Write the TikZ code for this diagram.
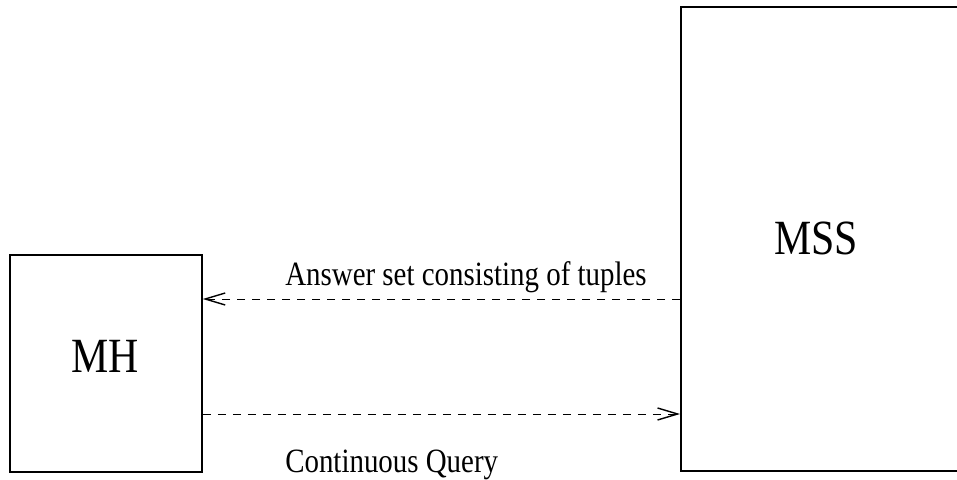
\documentclass[tikz,border=0pt]{standalone}
\usepackage{fontspec}
\setmainfont{Liberation Serif}[FakeStretch=0.85]
\usetikzlibrary{arrows.meta}

\begin{document}
\begin{tikzpicture}[x=1cm,y=1cm,
		unit/.style={draw, line width=1.1pt, inner sep=0pt},
		msg/.style={dash pattern=on 0.2cm off 0.175cm, line width=0.7pt,
			-{Straight Barb[length=0.5cm,width=0.3cm,line width=1pt]}},
		big/.style={font=\fontsize{35}{40}\selectfont},
		small/.style={font=\fontsize{24.2}{28}\selectfont, inner sep=0pt}]
		\path[use as bounding box, clip] (0,0) rectangle (23.925,11.975);
		% the two hosts
		\node[unit, minimum width=4.8cm, minimum height=5.425cm] (MH) at (2.65,2.8875) {};
		\node[unit, minimum width=8cm, minimum height=11.6cm, anchor=south west] (MSS) at (17,0.175) {};
		\node[big] (MHl) at (2.625,3.075) {MH};
		\node[big] (MSSl) at (20.41,6.0125) {MSS};
		% messages
		\coordinate (ans) at (0,4.5);
		\coordinate (cq) at (0,1.625);
		\draw[msg] (MSS.west |- ans) -- (MH.east |- ans);
		\draw[msg] (MH.east |- cq) -- (MSS.west |- cq);
		\node[small, anchor=base west] (ansl) at (7.125,4.825) {Answer set consisting of tuples};
		\node[small, anchor=base west] (cql) at (7.125,0.175) {Continuous Query};
	\end{tikzpicture}
\end{document}
